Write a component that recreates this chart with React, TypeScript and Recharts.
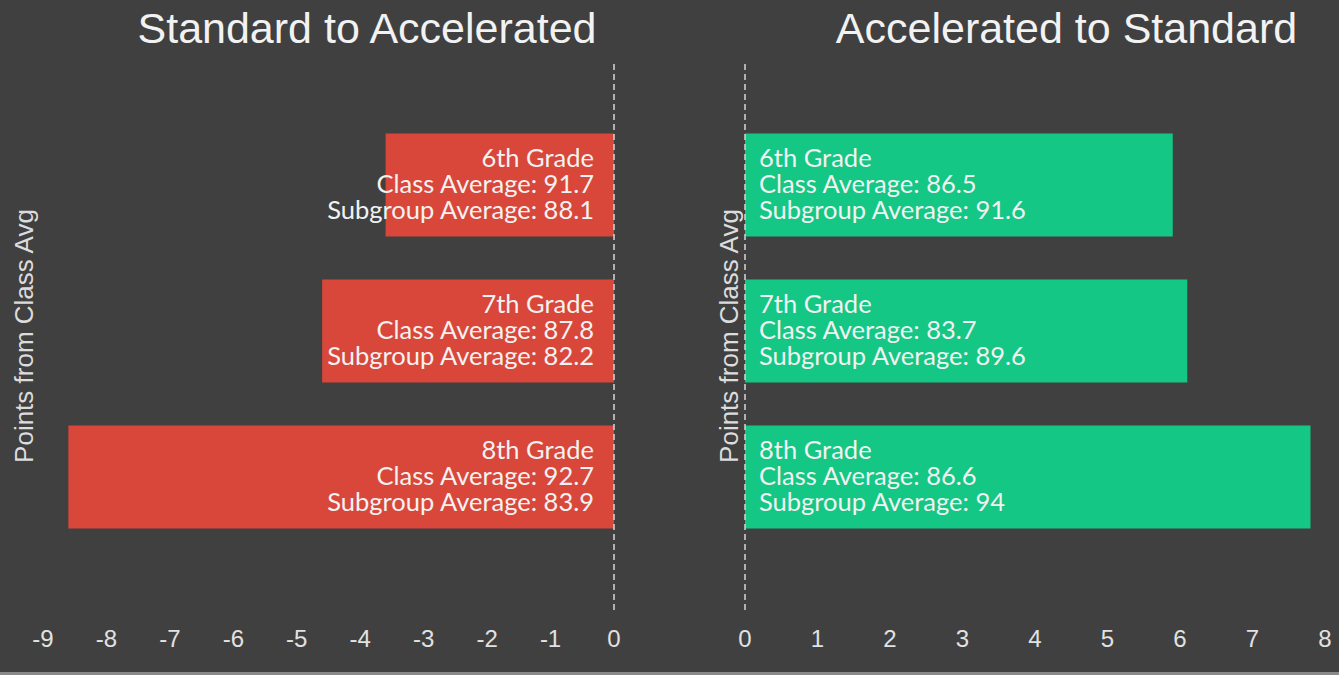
import React from 'react';
import { BarChart, Bar, XAxis, YAxis, ReferenceLine, LabelList } from 'recharts';

const grades = ['6th Grade', '7th Grade', '8th Grade'];

const stdToAccDiff = [-3.6, -4.6, -8.6];
const stdToAccClassAvg = [91.7, 87.8, 92.7];
const stdToAccSubAvg = [88.1, 82.2, 83.9];

const accToStdDiff = [5.9, 6.1, 7.8];
const accToStdClassAvg = [86.5, 83.7, 86.6];
const accToStdSubAvg = [91.6, 89.6, 94];

const leftTicks = [-9, -8, -7, -6, -5, -4, -3, -2, -1, 0];
const rightTicks = [0, 1, 2, 3, 4, 5, 6, 7, 8];

const titles = ['Standard to Accelerated', 'Accelerated to Standard'];
const yLabel = 'Points from Class Avg';

const BG = '#404040';
const RED = '#d9473a';
const GREEN = '#14c784';
const TEXT = '#f2f2f2';

const leftData = grades.map((g, i) => ({ grade: g, diff: stdToAccDiff[i] }));
const rightData = grades.map((g, i) => ({ grade: g, diff: accToStdDiff[i] }));

const Tick = (p: any) => (
  <text
    x={p.x}
    y={p.y + 35}
    textAnchor="middle"
    fill="#e2e2e2"
    fontFamily="Liberation Sans, Arial, sans-serif"
    fontSize={24}
  >
    {String(p.payload.value)}
  </text>
);

function makeLabel(side: 'left' | 'right', classAvg: number[], subAvg: number[]) {
  return (props: any) => {
    const { x, y, width, height, index } = props;
    const l = Math.min(x, x + width);
    const r = Math.max(x, x + width);
    const cy = y + height / 2;
    const tx = side === 'left' ? r - 20 : l + 14;
    const anchor = side === 'left' ? 'end' : 'start';
    return (
      <text
        x={tx}
        y={cy - 18}
        textAnchor={anchor}
        fill={TEXT}
        fontFamily="Lato, sans-serif"
        fontSize={25.5}
      >
        <tspan x={tx} dy={0}>{grades[index]}</tspan>
        <tspan x={tx} dy={26}>{`Class Average: ${classAvg[index]}`}</tspan>
        <tspan x={tx} dy={26}>{`Subgroup Average: ${subAvg[index]}`}</tspan>
      </text>
    );
  };
}

export default function App() {
  return (
    <div
      style={{
        position: 'absolute',
        left: 0,
        top: 0,
        width: 1339,
        height: 675,
        background: BG,
        overflow: 'hidden',
      }}
    >
      <div style={{ position: 'absolute', left: 0, top: 0 }}>
        <BarChart
          width={670}
          height={675}
          data={leftData}
          layout="vertical"
          margin={{ top: 62, right: 56, bottom: 0, left: 43 }}
        >
          <XAxis
            type="number"
            domain={[-9, 0]}
            ticks={leftTicks}
            interval={0}
            axisLine={false}
            tickLine={false}
            tickSize={0}
            height={65}
            tick={Tick}
            allowDataOverflow
          />
          <YAxis
            type="category"
            dataKey="grade"
            hide
            padding={{ top: 49.5, bottom: 60.5 }}
          />
          <Bar dataKey="diff" fill={RED} barSize={103} isAnimationActive={false}>
            <LabelList dataKey="diff" content={makeLabel('left', stdToAccClassAvg, stdToAccSubAvg)} />
          </Bar>
          <ReferenceLine x={0} stroke="#d6d6d6" strokeWidth={1.5} strokeDasharray="6 4" />
        </BarChart>
      </div>
      <div style={{ position: 'absolute', left: 670, top: 0 }}>
        <BarChart
          width={669}
          height={675}
          data={rightData}
          layout="vertical"
          margin={{ top: 62, right: 14, bottom: 0, left: 75 }}
        >
          <XAxis
            type="number"
            domain={[0, 8]}
            ticks={rightTicks}
            interval={0}
            axisLine={false}
            tickLine={false}
            tickSize={0}
            height={65}
            tick={Tick}
            allowDataOverflow
          />
          <YAxis
            type="category"
            dataKey="grade"
            hide
            padding={{ top: 49.5, bottom: 60.5 }}
          />
          <Bar dataKey="diff" fill={GREEN} barSize={103} isAnimationActive={false}>
            <LabelList dataKey="diff" content={makeLabel('right', accToStdClassAvg, accToStdSubAvg)} />
          </Bar>
          <ReferenceLine x={0} stroke="#d6d6d6" strokeWidth={1.5} strokeDasharray="6 4" />
        </BarChart>
      </div>
      <svg
        width={1339}
        height={675}
        style={{ position: 'absolute', left: 0, top: 0, pointerEvents: 'none' }}
      >
        <text x={367} y={43} textAnchor="middle" fill={TEXT} fontFamily="Liberation Sans, Arial, sans-serif" fontSize={43}>
          {titles[0]}
        </text>
        <text x={1066.5} y={43} textAnchor="middle" fill={TEXT} fontFamily="Liberation Sans, Arial, sans-serif" fontSize={43}>
          {titles[1]}
        </text>
        <text
          x={0}
          y={0}
          transform="translate(33,336) rotate(-90)"
          textAnchor="middle"
          fill="#dcdcdc"
          fontFamily="Liberation Sans, Arial, sans-serif"
          fontSize={26}
        >
          {yLabel}
        </text>
        <text
          x={0}
          y={0}
          transform="translate(738,336) rotate(-90)"
          textAnchor="middle"
          fill="#dcdcdc"
          fontFamily="Liberation Sans, Arial, sans-serif"
          fontSize={26}
        >
          {yLabel}
        </text>
        <rect x={0} y={672} width={1339} height={3} fill="#8a8a8a" />
      </svg>
    </div>
  );
}
